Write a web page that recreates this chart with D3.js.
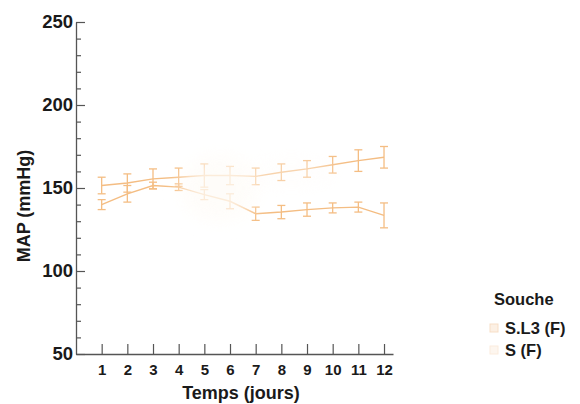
<!DOCTYPE html>
<html>
<head>
<meta charset="utf-8">
<script src="https://cdn.jsdelivr.net/npm/d3@7"></script>
<style>
  html, body { margin: 0; padding: 0; background: #fff; }
  svg { display: block; font-family: "Liberation Sans", Arial, sans-serif; }
</style>
</head>
<body>
<svg id="chart" width="580" height="404"></svg>
<script>
// Days of measurement
const days = [1, 2, 3, 4, 5, 6, 7, 8, 9, 10, 11, 12];
// Mean arterial pressure (mmHg), mean and error per day
const slMean = [151.5, 153, 155.5, 156.5, 157.5, 157.5, 157, 159.5, 161.5, 164, 166.5, 168.5];
const slErr  = [5, 5.5, 6, 5.5, 7, 5.5, 5, 5, 5, 5, 6.5, 6.5];
const sMean  = [140, 146.5, 151.5, 150.5, 146, 142, 134.5, 135.5, 137, 138, 138.5, 133.5];
const sErr   = [3, 5, 2, 2, 3, 4.5, 4, 4, 4, 3, 3, 7.5];
const yTicks = [50, 100, 150, 200, 250];
const seriesNames = ["S.L3 (F)", "S (F)"];

const svg = d3.select("#chart");
const x = d3.scaleLinear().domain([0, 12.35]).range([76, 393]);
const y = d3.scaleLinear().domain([50, 250]).range([354, 22]);
const orange = "#f4bd83";
const ink = "#1a1a1a";

// Soft haze that washes out the middle of the traces
const defs = svg.append("defs");
defs.append("filter").attr("id", "soft").attr("x", "-50%").attr("y", "-50%")
  .attr("width", "200%").attr("height", "200%")
  .append("feGaussianBlur").attr("stdDeviation", 9);

// Axes
const yAxis = d3.axisLeft(y).tickValues(d3.range(50, 251, 10))
  .tickSize(0).tickFormat(d => yTicks.includes(d) ? d : "");
const gy = svg.append("g").attr("transform", `translate(${x(0)},0)`).call(yAxis);
gy.select(".domain").attr("stroke", "#555").attr("stroke-width", 1.3);
gy.selectAll(".tick line").attr("x2", d => yTicks.includes(d) ? 9 : 5)
  .attr("stroke", "#555").attr("stroke-width", 1.2);
gy.selectAll(".tick text").attr("x", -3).attr("font-size", 18.5).attr("font-weight", "bold")
  .attr("fill", ink).attr("font-family", "Liberation Sans, Arial, sans-serif");

const xAxis = d3.axisBottom(x).tickValues(days).tickSize(0).tickFormat(d3.format("d"));
const gx = svg.append("g").attr("transform", `translate(0,${y(50)})`).call(xAxis);
gx.select(".domain").attr("stroke", "#555").attr("stroke-width", 1.3);
gx.selectAll(".tick line").attr("y2", -10).attr("stroke", "#555").attr("stroke-width", 1.2);
gx.selectAll(".tick text").attr("y", 10).attr("font-size", 15).attr("font-weight", "bold")
  .attr("fill", ink).attr("font-family", "Liberation Sans, Arial, sans-serif");

// Axis titles
svg.append("text").attr("x", 241).attr("y", 399)
  .attr("text-anchor", "middle").attr("font-size", 18).attr("font-weight", "bold")
  .attr("fill", ink).text("Temps (jours)");
svg.append("text").attr("transform", `translate(30,${(y(50) + y(250)) / 2 + 18}) rotate(-90)`)
  .attr("text-anchor", "middle").attr("font-size", 18).attr("font-weight", "bold")
  .attr("fill", ink).text("MAP (mmHg)");

// Series
const series = [
  { name: seriesNames[0], mean: slMean, err: slErr },
  { name: seriesNames[1], mean: sMean, err: sErr }
];
const line = d3.line().x((d, i) => x(days[i])).y(d => y(d));
const plot = svg.append("g");
series.forEach(s => {
  plot.append("path").attr("d", line(s.mean)).attr("fill", "none")
    .attr("stroke", orange).attr("stroke-width", 1.4);
  const eb = plot.append("g").attr("stroke", orange).attr("stroke-width", 1.3);
  days.forEach((d, i) => {
    const cx = x(d), lo = y(s.mean[i] - s.err[i]), hi = y(s.mean[i] + s.err[i]);
    eb.append("line").attr("x1", cx).attr("x2", cx).attr("y1", lo).attr("y2", hi);
    eb.append("line").attr("x1", cx - 4).attr("x2", cx + 4).attr("y1", lo).attr("y2", lo);
    eb.append("line").attr("x1", cx - 4).attr("x2", cx + 4).attr("y1", hi).attr("y2", hi);
  });
});

// Haze over the middle days
svg.append("ellipse").attr("cx", x(5.6)).attr("cy", y(150)).attr("rx", x(1.5) - x(0))
  .attr("ry", y(130) - y(150)).attr("fill", "#fefcf8").attr("opacity", 0.75)
  .attr("filter", "url(#soft)");
svg.append("ellipse").attr("cx", x(8.4)).attr("cy", y(159)).attr("rx", x(1.8) - x(0))
  .attr("ry", y(150) - y(159)).attr("fill", "#fefcfa").attr("opacity", 0.4)
  .attr("filter", "url(#soft)");

// Legend
const lg = svg.append("g").attr("transform", "translate(494,0)");
lg.append("text").attr("x", 0).attr("y", 305).attr("font-size", 16.5).attr("font-weight", "bold")
  .attr("fill", ink).text("Souche");
seriesNames.forEach((n, i) => {
  const yy = 334 + i * 22;
  lg.append("rect").attr("x", -4).attr("y", yy - 10).attr("width", 8).attr("height", 8)
    .attr("fill", "#fbe7d3").attr("stroke", "#f3c9a1").attr("stroke-width", 1)
    .attr("opacity", i === 0 ? 0.6 : 0.35);
  lg.append("text").attr("x", 11).attr("y", yy).attr("font-size", 16.5).attr("font-weight", "bold")
    .attr("fill", ink).text(n);
});
</script>
</body>
</html>
